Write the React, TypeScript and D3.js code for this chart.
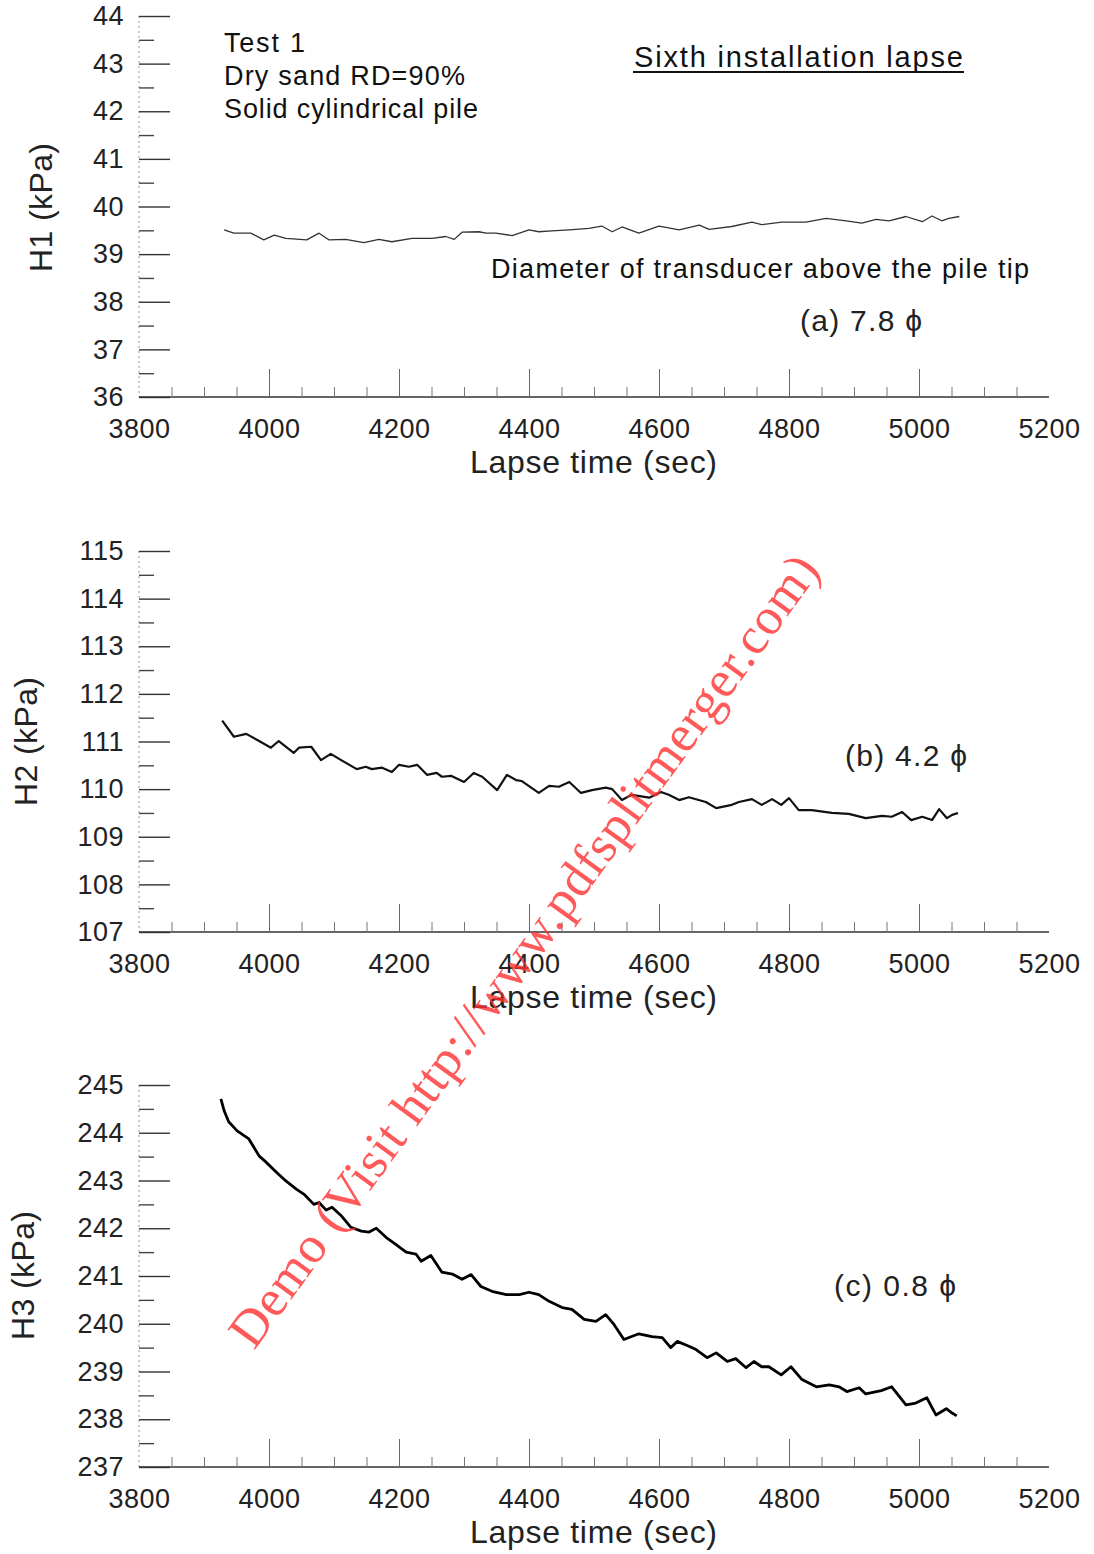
import { useEffect, useRef } from 'react'
import * as d3 from 'd3'

// H1 (a) 7.8 phi
const h1Time = [3931, 3946, 3972, 3992, 4008, 4026, 4058, 4077, 4092, 4118, 4146, 4169, 4189, 4220, 4251, 4272, 4285, 4297, 4323, 4334, 4349, 4374, 4400, 4415, 4435, 4462, 4492, 4512, 4528, 4543, 4569, 4600, 4631, 4662, 4677, 4712, 4743, 4758, 4789, 4826, 4857, 4888, 4912, 4934, 4954, 4980, 5005, 5020, 5035, 5046, 5062]
const h1Kpa = [39.51, 39.44, 39.44, 39.3, 39.4, 39.33, 39.3, 39.44, 39.3, 39.31, 39.24, 39.31, 39.26, 39.33, 39.33, 39.37, 39.31, 39.46, 39.47, 39.44, 39.44, 39.39, 39.51, 39.47, 39.49, 39.51, 39.54, 39.59, 39.47, 39.57, 39.44, 39.59, 39.51, 39.61, 39.52, 39.58, 39.67, 39.62, 39.67, 39.67, 39.75, 39.7, 39.65, 39.73, 39.7, 39.79, 39.68, 39.8, 39.7, 39.75, 39.79]

// H2 (b) 4.2 phi
const h2Time = [3928, 3946, 3965, 3982, 4003, 4015, 4038, 4046, 4065, 4080, 4095, 4111, 4135, 4149, 4158, 4174, 4189, 4200, 4215, 4228, 4243, 4258, 4266, 4280, 4300, 4315, 4328, 4351, 4366, 4380, 4389, 4415, 4431, 4446, 4462, 4480, 4497, 4518, 4528, 4543, 4558, 4585, 4603, 4615, 4631, 4646, 4672, 4688, 4712, 4723, 4743, 4758, 4774, 4788, 4800, 4815, 4835, 4866, 4892, 4918, 4943, 4958, 4974, 4988, 5005, 5020, 5031, 5043, 5051, 5060]
const h2Kpa = [111.44, 111.1, 111.16, 111.03, 110.87, 111.01, 110.76, 110.87, 110.89, 110.61, 110.74, 110.61, 110.42, 110.47, 110.42, 110.45, 110.36, 110.51, 110.47, 110.51, 110.3, 110.34, 110.26, 110.28, 110.15, 110.34, 110.26, 109.98, 110.3, 110.19, 110.17, 109.92, 110.07, 110.05, 110.15, 109.92, 109.98, 110.03, 110.0, 109.77, 109.88, 109.82, 109.94, 109.88, 109.77, 109.83, 109.73, 109.6, 109.67, 109.73, 109.79, 109.67, 109.79, 109.67, 109.81, 109.56, 109.56, 109.5, 109.48, 109.39, 109.44, 109.42, 109.52, 109.35, 109.42, 109.35, 109.58, 109.39, 109.46, 109.5]

// H3 (c) 0.8 phi
const h3Time = [3926, 3931, 3938, 3951, 3969, 3985, 3995, 4011, 4026, 4042, 4054, 4069, 4077, 4088, 4097, 4112, 4126, 4142, 4154, 4165, 4180, 4195, 4211, 4226, 4234, 4249, 4266, 4282, 4297, 4311, 4326, 4343, 4365, 4385, 4400, 4415, 4431, 4451, 4466, 4485, 4503, 4518, 4531, 4546, 4569, 4589, 4605, 4618, 4628, 4646, 4657, 4674, 4688, 4705, 4718, 4734, 4746, 4758, 4769, 4788, 4803, 4820, 4842, 4862, 4877, 4889, 4908, 4918, 4942, 4958, 4980, 4995, 5012, 5026, 5042, 5051, 5058]
const h3Kpa = [244.71, 244.46, 244.23, 244.04, 243.87, 243.51, 243.39, 243.18, 242.99, 242.82, 242.71, 242.5, 242.54, 242.38, 242.44, 242.25, 242.02, 241.94, 241.92, 242.0, 241.81, 241.66, 241.5, 241.46, 241.31, 241.43, 241.08, 241.04, 240.93, 241.03, 240.78, 240.68, 240.61, 240.61, 240.66, 240.61, 240.47, 240.34, 240.3, 240.09, 240.05, 240.19, 239.98, 239.67, 239.79, 239.73, 239.71, 239.5, 239.63, 239.53, 239.46, 239.29, 239.39, 239.21, 239.27, 239.08, 239.21, 239.1, 239.1, 238.93, 239.1, 238.83, 238.68, 238.72, 238.68, 238.58, 238.66, 238.53, 238.6, 238.68, 238.3, 238.34, 238.45, 238.09, 238.22, 238.13, 238.07]

const xTickLabels = [3800, 4000, 4200, 4400, 4600, 4800, 5000, 5200]
const xMinorTicks = d3.range(3850, 5200, 50)

const panels = [
  { yName: 'H1 (kPa)', yMin: 36, yMax: 44, top: 16, bottom: 397, time: h1Time, kpa: h1Kpa, width: 1.3, color: '#333', tag: '(a) 7.8 ϕ', tagX: 800, tagY: 331, yTitleX: 41, yTitleY: 208 },
  { yName: 'H2 (kPa)', yMin: 107, yMax: 115, top: 551, bottom: 932, time: h2Time, kpa: h2Kpa, width: 2.2, color: '#111', tag: '(b) 4.2 ϕ', tagX: 845, tagY: 766, yTitleX: 26, yTitleY: 742 },
  { yName: 'H3 (kPa)', yMin: 237, yMax: 245, top: 1085, bottom: 1467, time: h3Time, kpa: h3Kpa, width: 2.8, color: '#000', tag: '(c) 0.8 ϕ', tagX: 834, tagY: 1296, yTitleX: 23, yTitleY: 1276 },
]

const W = 1094
const H = 1554
const FONT = '"Liberation Sans", Arial, Helvetica, sans-serif'

export default function App() {
  const ref = useRef<SVGSVGElement | null>(null)

  useEffect(() => {
    const svg = d3.select(ref.current)
    svg.selectAll('*').remove()
    svg.append('rect').attr('width', W).attr('height', H).attr('fill', '#fff')

    const x = d3.scaleLinear().domain([3800, 5200]).range([139, 1049])

    panels.forEach((p) => {
      const y = d3.scaleLinear().domain([p.yMin, p.yMax]).range([p.bottom, p.top])
      const g = svg.append('g')

      // faint y axis line
      g.append('line')
        .attr('x1', 139).attr('x2', 139)
        .attr('y1', p.top).attr('y2', p.bottom)
        .attr('stroke', '#999').attr('stroke-width', 1).attr('stroke-dasharray', '2,3')

      const majors = d3.range(p.yMin, p.yMax + 1)
      const minors = d3.range(p.yMin + 0.5, p.yMax, 1)

      g.append('g')
        .attr('transform', 'translate(139,0)')
        .call(d3.axisRight(y).tickValues(majors).tickSize(31).tickFormat(() => ''))
        .call((a) => a.select('.domain').remove())
        .call((a) => a.selectAll('line').attr('stroke', '#333').attr('stroke-width', 1.4))

      g.append('g')
        .attr('transform', 'translate(139,0)')
        .call(d3.axisRight(y).tickValues(minors).tickSize(15).tickFormat(() => ''))
        .call((a) => a.select('.domain').remove())
        .call((a) => a.selectAll('line').attr('stroke', '#444').attr('stroke-width', 1.4))

      g.append('g')
        .attr('transform', 'translate(139,0)')
        .call(d3.axisLeft(y).tickValues(majors).tickSize(0).tickPadding(15).tickFormat(d3.format('d')))
        .call((a) => a.select('.domain').remove())
        .call((a) => a.selectAll('text').attr('font-family', FONT).attr('font-size', 27).attr('letter-spacing', 0.5).attr('fill', '#222'))

      // x axis
      g.append('line')
        .attr('x1', 139).attr('x2', 1049)
        .attr('y1', p.bottom).attr('y2', p.bottom)
        .attr('stroke', '#333').attr('stroke-width', 1.5)

      g.append('g')
        .attr('transform', `translate(0,${p.bottom})`)
        .call(d3.axisTop(x).tickValues(xMinorTicks.filter((t) => t % 200 !== 0)).tickSize(10).tickFormat(() => ''))
        .call((a) => a.select('.domain').remove())
        .call((a) => a.selectAll('line').attr('stroke', '#777').attr('stroke-width', 1))

      g.append('g')
        .attr('transform', `translate(0,${p.bottom})`)
        .call(d3.axisTop(x).tickValues([4000, 4200, 4400, 4600, 4800, 5000]).tickSize(28).tickFormat(() => ''))
        .call((a) => a.select('.domain').remove())
        .call((a) => a.selectAll('line').attr('stroke', '#666').attr('stroke-width', 1))

      g.append('g')
        .attr('transform', `translate(0,${p.bottom})`)
        .call(d3.axisBottom(x).tickValues(xTickLabels).tickSize(0).tickPadding(22).tickFormat(d3.format('d')))
        .call((a) => a.select('.domain').remove())
        .call((a) => a.selectAll('text').attr('font-family', FONT).attr('font-size', 27).attr('letter-spacing', 0.5).attr('fill', '#222'))

      g.append('text')
        .attr('x', 470).attr('y', p.bottom + 76)
        .attr('font-family', FONT).attr('font-size', 32).attr('fill', '#222')
        .attr('textLength', 247).attr('lengthAdjust', 'spacing')
        .text('Lapse time (sec)')

      g.append('text')
        .attr('transform', `translate(${p.yTitleX + 11},${p.yTitleY + 64}) rotate(-90)`)
        .attr('font-family', FONT).attr('font-size', 32).attr('fill', '#222')
        .attr('textLength', 129).attr('lengthAdjust', 'spacing')
        .text(p.yName)

      const line = d3.line<number>()
        .x((_, i) => x(p.time[i]))
        .y((d) => y(d))

      g.append('path')
        .datum(p.kpa)
        .attr('d', line)
        .attr('fill', 'none')
        .attr('stroke', p.color)
        .attr('stroke-width', p.width)
        .attr('stroke-linejoin', 'round')

      g.append('text')
        .attr('x', p.tagX).attr('y', p.tagY)
        .attr('font-family', FONT).attr('font-size', 30).attr('fill', '#222')
        .attr('textLength', 122).attr('lengthAdjust', 'spacing')
        .text(p.tag)
    })

    const notes = [
      { t: 'Test 1', x: 224, y: 52, len: 81 },
      { t: 'Dry sand RD=90%', x: 224, y: 85, len: 241 },
      { t: 'Solid cylindrical pile', x: 224, y: 118, len: 254 },
      { t: 'Diameter of transducer above the pile tip', x: 491, y: 278, len: 538 },
    ]
    notes.forEach((n) => {
      svg.append('text')
        .attr('x', n.x).attr('y', n.y)
        .attr('font-family', FONT).attr('font-size', 27).attr('fill', '#111')
        .attr('textLength', n.len).attr('lengthAdjust', 'spacing')
        .text(n.t)
    })

    svg.append('text')
      .attr('x', 634).attr('y', 67)
      .attr('font-family', FONT).attr('font-size', 29).attr('fill', '#111')
      .attr('textLength', 329).attr('lengthAdjust', 'spacing')
      .text('Sixth installation lapse')
    svg.append('line')
      .attr('x1', 633).attr('x2', 964).attr('y1', 72).attr('y2', 72)
      .attr('stroke', '#111').attr('stroke-width', 1.8)

    // watermark on the scanned page
    svg.append('text')
      .attr('transform', 'translate(254,1351) rotate(-54)')
      .attr('font-family', '"Liberation Serif", "Times New Roman", serif')
      .attr('font-size', 52)
      .attr('fill', '#ff3030')
      .attr('fill-opacity', 0.8)
      .attr('textLength', 965).attr('lengthAdjust', 'spacing')
      .text('Demo (Visit http://www.pdfsplitmerger.com)')
  }, [])

  return (
    <svg
      ref={ref}
      width={W}
      height={H}
      viewBox={`0 0 ${W} ${H}`}
      style={{ position: 'absolute', left: 0, top: 0 }}
    />
  )
}
